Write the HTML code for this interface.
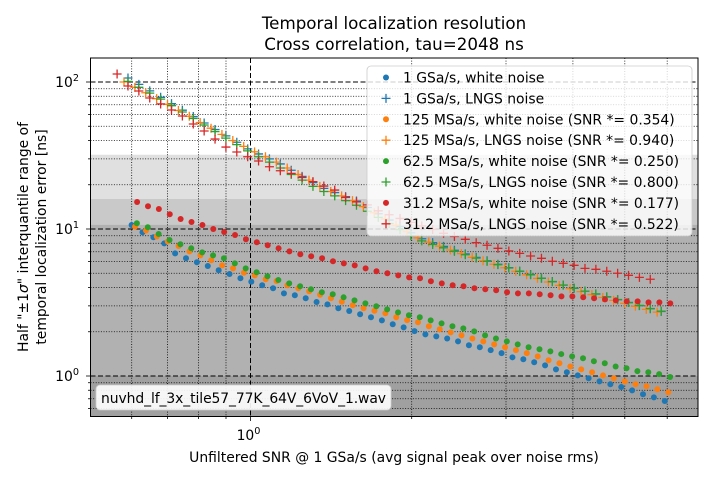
<!DOCTYPE html>
<html><head><meta charset="utf-8">
<style>
html,body{margin:0;padding:0;background:#fff;}
svg{display:block;font-family:"DejaVu Sans","Liberation Sans",sans-serif;}
</style></head>
<body>
<svg id="chart" width="714" height="480" viewBox="0 0 714 480" xmlns="http://www.w3.org/2000/svg">
<rect x="0" y="0" width="714" height="480" fill="#fff"/>
<text x="394" y="29" font-size="16.7" text-anchor="middle" fill="#000">Temporal localization resolution</text>
<text x="394" y="50" font-size="16.7" text-anchor="middle" fill="#000">Cross correlation, tau=2048 ns</text>
<g id="bands"></g>
<g id="grid"></g>
<g id="marks"></g>
<g id="axes"></g>
<text transform="translate(28,237) rotate(-90)" font-size="13.9" text-anchor="middle">Half "±1<tspan font-style="italic">σ</tspan>" interquantile range of</text>
<text transform="translate(46,237) rotate(-90)" font-size="13.9" text-anchor="middle">temporal localization error [ns]</text>
<text x="394" y="462" font-size="13.9" text-anchor="middle">Unfiltered SNR @ 1 GSa/s (avg signal peak over noise rms)</text>
<g>
<rect x="96" y="385" width="295" height="25" rx="4" fill="#fff" fill-opacity="0.9" stroke="#ccc" stroke-width="0.8"/>
<text x="101" y="403" font-size="13.9" textLength="285">nuvhd_lf_3x_tile57_77K_64V_6VoV_1.wav</text>
</g>
<g id="legend">
<rect x="367" y="66" width="325" height="170" rx="4" fill="#fff" fill-opacity="0.8" stroke="#ccc" stroke-width="0.8"/>
</g>
</svg>
<script>
// ---- data ----
const snr = [0.5635,0.5905,0.6188,0.6484,0.6795,0.7120,0.7461,0.7819,0.8193,0.8586,0.8997,0.9428,0.9880,1.0353,1.0849,1.1368,1.1913,1.2483,1.3081,1.3708,1.4364,1.5052,1.5773,1.6529,1.7321,1.8150,1.9020,1.9931,2.0885,2.1886,2.2934,2.4032,2.5183,2.6390,2.7654,2.8978,3.0366,3.1821,3.3345,3.4942,3.6616,3.8370,4.0208,4.2133,4.4152,4.6266,4.8482,5.0805,5.3238,5.5788,5.8460];
const seriesNames = ["1 GSa/s, white noise","1 GSa/s, LNGS noise","125 MSa/s, white noise (SNR *= 0.354)","125 MSa/s, LNGS noise (SNR *= 0.940)","62.5 MSa/s, white noise (SNR *= 0.250)","62.5 MSa/s, LNGS noise (SNR *= 0.800)","31.2 MSa/s, white noise (SNR *= 0.177)","31.2 MSa/s, LNGS noise (SNR *= 0.522)"];
const seriesStart = [1,1,1,1,1,1,1,0];
const seriesSnrScale = [1.0157,1.0,1.031,0.983,1.039,1.0,1.040,1.0];
const blueWhite = [10.65,9.50,8.78,7.99,6.83,6.32,5.94,5.60,5.24,4.94,4.62,4.38,4.14,3.95,3.65,3.54,3.38,3.19,3.07,2.89,2.77,2.63,2.51,2.39,2.25,2.14,2.02,1.92,1.86,1.80,1.72,1.62,1.57,1.50,1.43,1.34,1.30,1.24,1.18,1.11,1.06,1.01,0.965,0.920,0.878,0.842,0.799,0.751,0.716,0.676];
const blueLngs = [106.5,96.3,87.0,78.7,71.2,64.3,58.2,52.6,47.5,43.0,38.9,35.1,32.4,30.0,27.7,25.1,22.8,20.7,18.9,17.7,16.6,15.5,14.0,12.7,11.5,10.4,9.41,8.58,8.08,7.61,7.17,6.77,6.41,6.08,5.76,5.46,5.17,4.90,4.63,4.39,4.15,3.95,3.78,3.61,3.45,3.30,3.16,3.01,2.87,2.75];
const orangeWhite = [10.37,9.77,8.89,8.22,7.66,7.05,6.62,6.13,5.66,5.40,5.04,4.84,4.55,4.43,4.14,3.95,3.77,3.57,3.38,3.20,3.03,2.89,2.78,2.67,2.51,2.40,2.32,2.18,2.08,1.98,1.89,1.80,1.72,1.64,1.57,1.50,1.43,1.36,1.28,1.22,1.16,1.11,1.06,1.01,0.965,0.920,0.878,0.851,0.812,0.775];
const orangeLngs = [100.0,92.0,84.5,77.0,70.5,64.0,58.5,53.0,48.5,44.0,40.0,36.5,33.5,31.0,28.5,26.0,23.5,21.5,19.5,18.0,16.8,15.6,14.2,12.9,11.7,10.6,9.6,8.7,8.15,7.65,7.2,6.8,6.42,6.08,5.76,5.45,5.16,4.88,4.61,4.36,4.13,3.93,3.75,3.58,3.42,3.27,3.12,2.98,2.84,2.72];
const greenWhite = [10.94,10.27,9.25,8.42,7.87,7.39,6.94,6.62,6.32,5.84,5.40,5.08,4.77,4.50,4.27,4.08,3.89,3.71,3.60,3.43,3.27,3.12,2.98,2.84,2.71,2.59,2.51,2.39,2.28,2.18,2.11,2.01,1.89,1.80,1.72,1.64,1.57,1.52,1.47,1.41,1.36,1.32,1.26,1.22,1.16,1.13,1.08,1.06,1.03,0.984];
const greenLngs = [101,92,84,76.5,69,62.5,56.5,51,46,41.5,37.5,34,31,28.5,26,23.5,21.5,19.5,18,16.8,15.6,14.5,13.2,12.0,10.9,9.9,9.0,8.3,7.85,7.45,7.05,6.68,6.34,6.02,5.72,5.43,5.15,4.88,4.62,4.38,4.16,3.96,3.78,3.62,3.46,3.31,3.16,3.02,2.88,2.76];
const redWhite = [15.27,14.27,13.68,12.59,11.70,11.16,10.65,10.0,9.54,9.10,8.51,8.12,7.75,7.39,7.05,6.73,6.52,6.32,6.03,5.84,5.66,5.40,5.16,5.00,4.84,4.69,4.62,4.41,4.27,4.14,4.08,3.95,3.89,3.83,3.71,3.65,3.65,3.60,3.54,3.48,3.48,3.43,3.38,3.32,3.27,3.22,3.22,3.17,3.17,3.12];
const redLngs = [113.4,93.9,86.9,77.8,70.9,64.5,58.7,51.8,46.4,40.9,36.1,33.4,31.0,29.0,26.5,24.9,23.9,22.4,21.0,19.6,18.4,16.4,15.3,14.6,13.3,12.5,11.8,11.1,10.5,9.92,9.35,8.89,8.51,8.07,7.75,7.39,7.09,6.83,6.55,6.32,6.03,5.84,5.66,5.40,5.32,5.16,5.00,4.84,4.69,4.55];
const bandLimits = [32, 16, 10.67, 1];
const yTickValues = [1, 10, 100];
const yTickLabels = ["0", "1", "2"];
const xTickValues = [1];
const xTickLabels = ["0"];

// ---- axes ----
const L = 90.5, R = 698, T = 58, B = 416.5;
const X0 = 250.5, XDEC = 535.5, Y0 = 376, YDEC = 147;
function xs(v){ return X0 + Math.log10(v) * XDEC; }
function ys(v){ return Y0 - Math.log10(v) * YDEC; }
const NS = "http://www.w3.org/2000/svg";
function mk(tag, attrs, parent){ const e = document.createElementNS(NS, tag); for (const k in attrs) e.setAttribute(k, attrs[k]); parent.appendChild(e); return e; }

// bands
const bandColors = ["#e0e0e0","#c9c9c9","#b1b1b1","#a0a0a0"];
const bands = document.getElementById('bands');
mk('rect', {x:L, y:T, width:R-L, height:B-T, fill:'#fff'}, bands);
bandLimits.forEach((lim, i) => {
  const top = Math.max(T, ys(lim));
  const r = mk('rect', {x:L, y:top, width:R-L, height:B-top, fill:bandColors[i]}, bands);
  
  
});

// grid
const grid = document.getElementById('grid');
const yMin = Math.pow(10, (Y0 - B) / YDEC), yMax = Math.pow(10, (Y0 - T) / YDEC);
const xMin = Math.pow(10, (L - X0) / XDEC), xMax = Math.pow(10, (R - X0) / XDEC);
const axes = document.getElementById('axes');
for (let d = -1; d <= 2; d++) {
  for (let m = 1; m <= 9; m++) {
    const v = m * Math.pow(10, d);
    if (v < yMin || v > yMax) continue;
    const y = ys(v);
    mk('line', {x1:L, x2:R, y1:y, y2:y, stroke:'#000', 'stroke-width': m===1?1:0.8, 'stroke-dasharray': m===1?'5,2.5':'1,1.6'}, grid);
    mk('line', {x1:L, x2:L-(m===1?4.5:2.5), y1:y, y2:y, stroke:'#000', 'stroke-width':0.8}, axes);
  }
}
for (let d = -1; d <= 0; d++) {
  for (let m = 1; m <= 9; m++) {
    const v = m * Math.pow(10, d);
    if (v < xMin || v > xMax) continue;
    const x = xs(v);
    mk('line', {x1:x, x2:x, y1:T, y2:B, stroke:'#000', 'stroke-width': m===1?1:0.8, 'stroke-dasharray': m===1?'5,2.5':'1,1.6'}, grid);
    mk('line', {x1:x, x2:x, y1:B, y2:B+(m===1?4.5:2.5), stroke:'#000', 'stroke-width':0.8}, axes);
  }
}
mk('rect', {x:L, y:T, width:R-L, height:B-T, fill:'none', stroke:'#000', 'stroke-width':1}, axes);
yTickValues.forEach((v, i) => {
  const t = mk('text', {x:79, y:ys(v)+5, 'font-size':13.9, 'text-anchor':'end'}, axes);
  
  
  t.textContent = '10';
  const s = mk('tspan', {dy:-6, 'font-size':9.7}, t); s.textContent = yTickLabels[i];
});
xTickValues.forEach((v, i) => {
  const t = mk('text', {x:xs(v)-2, y:440, 'font-size':13.9, 'text-anchor':'middle'}, axes);
  
  
  t.textContent = '10';
  const s = mk('tspan', {dy:-6, 'font-size':9.7}, t); s.textContent = xTickLabels[i];
});

// series
const colors = ["#1f77b4","#1f77b4","#ff7f0e","#ff7f0e","#2ca02c","#2ca02c","#d62728","#d62728"];
const allSeries = [blueWhite, blueLngs, orangeWhite, orangeLngs, greenWhite, greenLngs, redWhite, redLngs];
const marks = document.getElementById('marks');
function drawMarker(g, x, y, i){
  if (i % 2 === 0) {
    return mk('circle', {cx:x, cy:y, r:3, fill:colors[i]}, g);
  }
  return mk('path', {d:`M${x-4.5},${y}H${x+4.5}M${x},${y-4.5}V${y+4.5}`, stroke:colors[i], 'stroke-width':1.3, fill:'none'}, g);
}
allSeries.forEach((vals, i) => {
  const g = mk('g', {}, marks);
  
  
  vals.forEach((v, j) => {
    const sx = snr[seriesStart[i] + j] * seriesSnrScale[i];
    const m = drawMarker(g, xs(sx), ys(v), i);
    
    
  });
});

// legend
const legend = document.getElementById('legend');
document.getElementById('chart').appendChild(legend);
seriesNames.forEach((name, i) => {
  const y = 77.5 + i * 20.9;
  const g = mk('g', {}, legend);
  
  
  drawMarker(g, 386, y, i);
  const t = mk('text', {x:403, y:y+5, 'font-size':13.9}, g);
  t.textContent = name;
});
</script>
</body></html>
